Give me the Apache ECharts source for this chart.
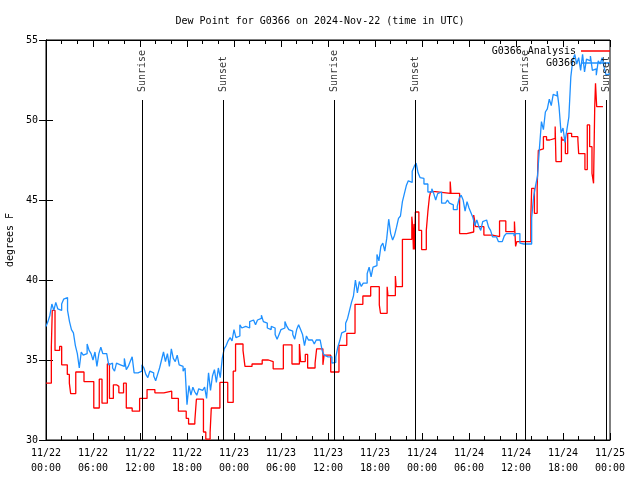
<!DOCTYPE html>
<html><head><meta charset="utf-8">
<script src="https://cdn.jsdelivr.net/npm/echarts@6/dist/echarts.min.js"></script>
<style>html,body{margin:0;padding:0;background:#fff}#c{width:640px;height:480px}</style>
</head><body><div id="c"></div>
<script>
// x in hours since 2024-11-22 00:00 UTC
const xTickLabels = ['11/22\n00:00','11/22\n06:00','11/22\n12:00','11/22\n18:00','11/23\n00:00','11/23\n06:00','11/23\n12:00','11/23\n18:00','11/24\n00:00','11/24\n06:00','11/24\n12:00','11/24\n18:00','11/25\n00:00'];
const yTickValues = [30,35,40,45,50,55];

const analysisSeries = [
[0,33.55],[0.68,35.8],[0.8,38.1],[1.15,35.6],[1.74,35.85],[2.0,34.7],[2.72,34.1],[2.98,33.55],[3.15,32.9],[3.8,34.25],[4.85,33.65],[6.1,32.0],[6.8,33.8],[7.15,32.3],[7.83,34.75],[8.1,32.6],[8.6,33.45],[9.0,33.35],[9.3,32.95],[9.9,33.55],[10.25,32.0],[11.0,31.8],[11.95,32.6],[12.9,33.15],[13.9,32.95],[15.05,33.05],[16.05,32.6],[16.9,31.8],[17.9,31.35],[18.2,31.0],[19.0,31.2],[19.2,32.55],[20.1,30.5],[20.4,30.05],[20.95,30.45],[21.1,32.0],[22.2,33.6],[23.2,32.35],[23.9,34.3],[24.2,36.0],[25.15,35.6],[25.4,34.6],[26.3,34.75],[27.6,35.0],[28.4,34.9],[29.0,34.45],[30.3,35.95],[31.4,34.75],[32.35,36.0],[32.5,34.9],[33.1,35.35],[33.4,34.5],[34.35,34.8],[34.55,35.7],[35.35,34.7],[35.5,35.3],[36.35,34.25],[37.4,35.92],[38.4,36.67],[39.45,38.48],[40.45,39.0],[41.45,39.58],[42.55,38.44],[42.7,37.92],[43.55,39.58],[43.65,39.02],[44.6,40.25],[44.7,39.58],[45.5,42.54],[46.7,43.96],[46.8,43.44],[46.9,41.9],[47.0,43.5],[47.05,41.9],[47.15,44.25],[47.6,43.1],[47.95,41.9],[48.55,43.1],[48.75,44.27],[48.95,45.2],[49.1,45.52],[49.7,45.42],[51.6,46.15],[51.7,45.42],[52.8,42.9],[53.7,43.0],[54.6,44.06],[54.85,43.33],[55.9,42.81],[57.0,42.71],[57.9,43.69],[58.7,43.02],[59.8,43.65],[59.95,42.1],[60.1,42.4],[61.9,44.06],[62.0,45.73],[62.35,44.17],[62.7,45.73],[62.85,48.1],[63.1,48.2],[63.5,48.96],[63.9,48.75],[64.3,48.85],[65.0,49.6],[65.1,47.4],[65.8,48.96],[65.9,48.75],[66.3,47.9],[66.6,49.17],[67.1,48.96],[67.9,48.75],[68.0,47.9],[68.8,46.9],[69.1,49.69],[69.4,48.33],[69.7,46.67],[69.9,46.04],[70.05,50.83],[70.15,52.3],[70.3,50.83],[71.1,50.83]
];

// station observations, one reading every 15 minutes from 11/22 00:00
const obsStartHour = 0;
const obsStepHours = 0.25;
const obsEndHour = 72;
const obsValues = [
37.1,37.4,37.8,38.5, 38.1,38.6,38.2,38.1, 38.5,38.8,38.9,38.1, 37.4,36.9,36.7,35.9,
35.4,34.5,35.5,35.3, 35.4,36.0,35.6,35.4, 35.0,35.5,34.6,35.4, 35.8,35.4,35.4,35.3,
34.7,34.8,34.5,34.3, 34.8,34.7,34.8,34.6, 35.1,34.4,34.6,34.9, 35.2,34.2,34.2,34.3,
34.3,34.7,34.5,34.1, 33.9,34.3,34.2,34.0, 33.7,34.1,34.5,35.0, 35.5,34.9,35.4,34.6,
35.7,35.1,34.9,35.3, 34.7,34.6,34.3,34.5, 32.2,33.4,32.8,33.3, 33.0,32.8,33.2,33.1,
33.0,33.3,32.6,34.2, 33.1,34.0,34.4,33.6, 34.5,33.9,35.1,35.7, 35.9,36.2,36.4,36.2,
36.9,36.4,36.5,37.2, 37.0,37.1,37.2,37.0, 37.4,37.5,37.5,37.2, 37.5,37.6,37.8,37.4,
37.3,37.0,36.9,37.1, 37.0,36.6,36.3,36.6, 36.9,37.0,37.4,37.1, 36.9,36.8,36.6,36.3,
36.9,37.2,36.9,36.6, 35.9,36.5,36.25,36.25, 36.25,36.0,36.25,36.25, 36.15,35.6,35.3,35.2,
35.2,35.2,34.8,34.85, 35.2,35.8,36.2,36.7, 36.8,37.3,37.6,38.1, 38.6,39.0,40.0,39.2,
39.9,39.6,39.8,39.8, 40.4,40.8,40.2,40.8, 40.9,41.6,41.2,42.1, 42.3,41.8,42.6,43.8,
42.9,42.5,42.8,43.3, 43.85,44.0,44.9,45.4, 45.9,46.2,46.1,46.8, 47.1,47.3,46.7,46.4,
46.35,46.0,46.0,45.5, 45.5,45.7,45.4,45.0, 45.4,45.5,44.8,44.8, 44.9,45.0,44.8,44.7,
44.4,44.4,44.6,45.1, 45.3,45.0,44.3,44.9, 44.5,44.2,43.9,43.4, 43.75,43.35,43.1,43.65,
43.75,43.65,43.3,43.1, 42.7,42.7,42.6,42.4, 42.4,42.5,42.75,42.9, 42.9,42.9,42.9,42.75,
42.9,42.9,42.3,42.25, 42.25,42.25,42.25,42.25, 43.9,45.2,45.9,46.5, 48.3,49.9,49.4,50.5,
50.7,51.3,50.9,51.6, 51.5,51.8,50.8,49.2, 49.5,48.6,49.4,50.2, 52.7,53.75,54.1,53.5,
53.9,53.1,54.1,53.0, 53.8,53.7,54.0,53.1, 53.2,52.8,53.7,53.5, 53.9,53.3,52.8,52.9
];

const sunEvents = [[12.3,'Sunrise'],[22.64,'Sunset'],[36.8,'Sunrise'],[47.15,'Sunset'],[61.23,'Sunrise'],[71.49,'Sunset']];
const sunLineTop = 51.25;
const sunLabelBase = 51.75;

const obsData = obsValues.map((v, i) => [obsStartHour + i * obsStepHours, v]);
obsData.push([obsEndHour, obsValues[obsValues.length - 1]]);

const FONT = 'DejaVu Sans Mono';
const txt = {fontFamily: FONT, fontSize: 10, color: '#000'};
const axisLine = {show: true, lineStyle: {color: '#000', width: 1}};

const chart = echarts.init(document.getElementById('c'), null, {renderer: 'canvas'});
chart.setOption({
  animation: false,
  backgroundColor: '#fff',
  textStyle: txt,
  title: {text: 'Dew Point for G0366 on 2024-Nov-22 (time in UTC)', left: 'center', top: 11,
    textStyle: Object.assign({fontWeight: 'normal'}, txt)},
  legend: {orient: 'vertical', right: 25, top: 41, align: 'right', icon: 'rect',
    itemWidth: 29, itemHeight: 1.5, itemGap: 2,
    textStyle: txt, data: ['G0366 Analysis', 'G0366']},
  grid: {left: 46, right: 30, top: 40, bottom: 40, show: true, borderColor: '#000', borderWidth: 1,
    containLabel: false, outerBoundsMode: 'none'},
  xAxis: [
    {type: 'value', min: 0, max: 72, interval: 6, axisLine: axisLine,
     axisTick: {inside: true, length: 7, lineStyle: {color: '#000'}},
     minorTick: {show: true, splitNumber: 3, length: 4, lineStyle: {color: '#000'}},
     splitLine: {show: false},
     axisLabel: Object.assign({formatter: v => xTickLabels[Math.round(v / 6)], lineHeight: 15, margin: 6}, txt)},
    {type: 'value', position: 'top', min: 0, max: 72, interval: 6, axisLine: axisLine,
     axisTick: {inside: true, length: 7, lineStyle: {color: '#000'}},
     minorTick: {show: true, splitNumber: 3, length: 4, lineStyle: {color: '#000'}},
     splitLine: {show: false}, axisLabel: {show: false}}
  ],
  yAxis: [
    {type: 'value', min: yTickValues[0], max: yTickValues[yTickValues.length - 1], interval: 5,
     name: 'degrees F', nameLocation: 'middle', nameGap: 31, nameRotate: 90, nameTextStyle: txt,
     axisLine: axisLine, axisTick: {inside: true, length: 7, lineStyle: {color: '#000'}},
     splitLine: {show: false}, axisLabel: Object.assign({margin: 8}, txt)},
    {type: 'value', position: 'right', min: yTickValues[0], max: yTickValues[yTickValues.length - 1], interval: 5,
     axisLine: axisLine, axisTick: {inside: true, length: 7, lineStyle: {color: '#000'}},
     splitLine: {show: false}, axisLabel: {show: false}}
  ],
  series: [
    {name: 'G0366 Analysis', type: 'line', step: 'end', data: analysisSeries, symbol: 'none',
     lineStyle: {color: '#ff0000', width: 1.3}, itemStyle: {color: '#ff0000'}, z: 2},
    {name: 'G0366', type: 'line', step: 'end', data: obsData, symbol: 'none',
     lineStyle: {color: '#1e90ff', width: 1.3}, itemStyle: {color: '#1e90ff'}, z: 3},
    {name: 'sun', type: 'scatter', symbolSize: 0, z: 4, silent: true,
     data: sunEvents.map(e => [e[0], sunLabelBase, e[1]]),
     label: Object.assign({show: true, position: 'inside', rotate: 90, align: 'left', verticalAlign: 'middle',
       formatter: p => p.data[2]}, txt),
     markLine: {silent: true, symbol: 'none', label: {show: false},
       lineStyle: {color: '#000', width: 1, type: 'solid'},
       data: sunEvents.map(e => [{coord: [e[0], yTickValues[0]]}, {coord: [e[0], sunLineTop]}])}}
  ]
});
</script></body></html>
